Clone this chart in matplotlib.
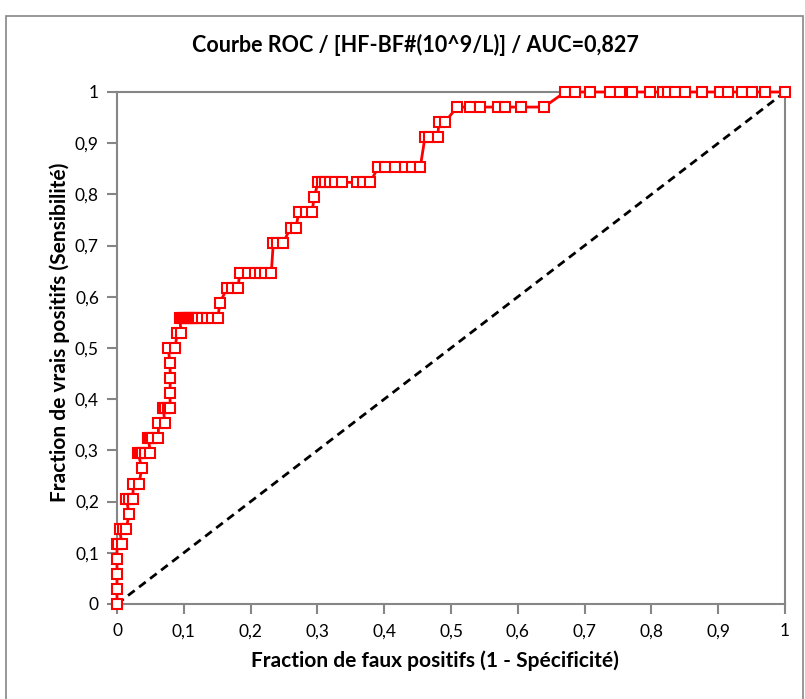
import matplotlib
matplotlib.use("Agg")
import matplotlib.pyplot as plt
from matplotlib.patches import Rectangle

# ==============================
# Data
# ==============================
n_pos = 34

# x positions (1 - specificity) for each sensitivity level k/34
rows = {
    0: [0.0],
    1: [0.0],
    2: [0.0],
    3: [0.0],
    4: [0.0, 0.002, 0.007],
    5: [0.004, 0.009, 0.014],
    6: [0.018],
    7: [0.014, 0.018, 0.024],
    8: [0.024, 0.033],
    9: [0.037],
    10: [0.032, 0.035, 0.038, 0.042, 0.050],
    11: [0.047, 0.050, 0.053, 0.062],
    12: [0.062, 0.072],
    13: [0.069, 0.072, 0.077, 0.080],
    14: [0.079],
    15: [0.080],
    16: [0.079],
    17: [0.077, 0.087],
    18: [0.090, 0.096],
    19: [0.094, 0.097, 0.100, 0.103, 0.106, 0.109, 0.112, 0.115, 0.118,
         0.121, 0.127, 0.135, 0.142, 0.151],
    20: [0.154],
    21: [0.165, 0.172, 0.181],
    22: [0.184, 0.196, 0.207, 0.214, 0.222, 0.231],
    24: [0.234, 0.240, 0.249],
    25: [0.260, 0.268],
    26: [0.272, 0.283, 0.292],
    27: [0.295],
    28: [0.301, 0.307, 0.311, 0.319, 0.326, 0.337, 0.359, 0.368, 0.379],
    29: [0.391, 0.401, 0.416, 0.431, 0.442, 0.454],
    31: [0.461, 0.467, 0.480],
    32: [0.482, 0.491],
    33: [0.509, 0.528, 0.543, 0.570, 0.581, 0.605, 0.639],
    34: [0.671, 0.686, 0.708, 0.738, 0.753, 0.771, 0.798, 0.817, 0.825,
         0.835, 0.850, 0.876, 0.903, 0.915, 0.936, 0.951, 0.970, 1.0],
}

fpr = []
tpr = []
for k, xs in rows.items():
    for x in xs:
        fpr.append(x)
        tpr.append(k / n_pos)

ticks = [0, 0.1, 0.2, 0.3, 0.4, 0.5, 0.6, 0.7, 0.8, 0.9, 1]
tick_labels = ["0", "0,1", "0,2", "0,3", "0,4", "0,5", "0,6", "0,7", "0,8", "0,9", "1"]

title = "Courbe ROC / [HF-BF#(10^9/L)] / AUC=0,827"
xlabel = "Fraction de faux positifs (1 - Spécificité)"
ylabel = "Fraction de vrais positifs (Sensibilité)"

# ==============================
# Plot
# ==============================
plt.rcParams['font.family'] = ['Lato', 'DejaVu Sans']

fig = plt.figure(figsize=(8.05, 6.99), dpi=100)
fig.patches.append(Rectangle((6 / 805, -0.01), 797 / 805, 683 / 699 + 0.01,
                             transform=fig.transFigure, fill=False,
                             edgecolor="#868686", linewidth=1.2))

ax = fig.add_axes([117 / 805, 1 - 604 / 699, 668 / 805, 512 / 699])

ax.plot([0, 1], [0, 1], color="black", linestyle=(0, (3, 2)), linewidth=2, zorder=2)
ax.plot(fpr, tpr, color="#FF0000", linewidth=2, marker="s", markersize=7,
        markerfacecolor="white", markeredgecolor="#FF0000", markeredgewidth=1.5,
        zorder=3, clip_on=False)

ax.set_xlim(0, 1)
ax.set_ylim(0, 1)
ax.set_xticks(ticks)
ax.set_xticklabels(tick_labels)
ax.set_yticks(ticks)
ax.set_yticklabels(tick_labels)

for s in ax.spines.values():
    s.set_color("#868686")
    s.set_linewidth(1.5)
ax.tick_params(axis="both", colors="#868686", length=7, width=1.5,
               labelcolor="black", labelsize=12.5)
ax.tick_params(axis="x", pad=7)
ax.tick_params(axis="y", pad=6)

fig.text(415 / 805, 1 - 45 / 699, title, fontsize=15.5, fontweight="bold",
         ha="center", va="center")
ax.set_xlabel(xlabel, fontsize=15, fontweight="bold")
ax.set_ylabel(ylabel, fontsize=15, fontweight="bold")
ax.xaxis.set_label_coords(0.476, -0.09)
ax.yaxis.set_label_coords(-0.07, 0.53)

fig.savefig("out.png", dpi=100)
